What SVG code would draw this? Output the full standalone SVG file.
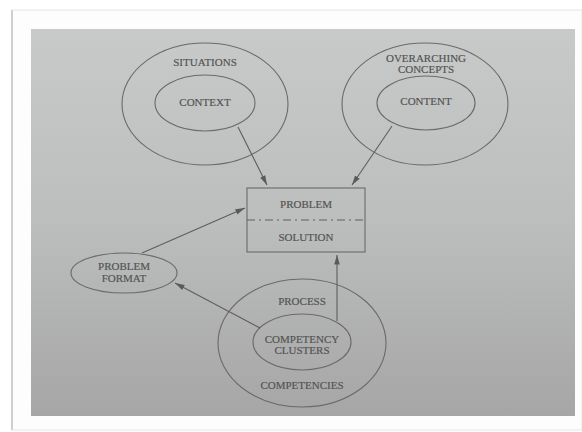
<svg xmlns="http://www.w3.org/2000/svg" width="582" height="432" viewBox="0 0 582 432">
<defs>
<linearGradient id="bg" x1="0" y1="0" x2="0" y2="1">
<stop offset="0" stop-color="#c8caca"/>
<stop offset="0.5" stop-color="#bcbdbd"/>
<stop offset="1" stop-color="#a6a6a6"/>
</linearGradient>
<marker id="ah" viewBox="0 0 12 10" refX="12" refY="5" markerWidth="10" markerHeight="8" markerUnits="userSpaceOnUse" orient="auto">
<path d="M0,1.5 L12,5 L0,8.5 Z" fill="#5a5a5a"/>
</marker>
<style>
.sh{fill:none;stroke:#6a6a6a;stroke-width:1.1}
.ln{fill:none;stroke:#5e5e5e;stroke-width:1.1;marker-end:url(#ah)}
text{font-family:"Liberation Serif","Times New Roman",serif;font-size:11px;fill:#525252;stroke:#5a5a5a;stroke-width:0.2;text-anchor:middle;dominant-baseline:central}
</style>
</defs>
<rect x="0" y="0" width="582" height="432" fill="#ffffff"/>
<rect x="12" y="10" width="570" height="420" fill="#fdfdfd" stroke="#e6e6e6" stroke-width="1"/>
<line x1="12" y1="10" x2="12" y2="430" stroke="#cfcfcf" stroke-width="2"/>
<rect x="31" y="29" width="544" height="387" fill="url(#bg)"/>
<g id="situations">
<ellipse class="sh" cx="205" cy="104" rx="83" ry="61"/>
<text x="205" y="62">SITUATIONS</text>
</g>
<g id="context">
<ellipse class="sh" cx="205" cy="103" rx="50" ry="28"/>
<text x="205" y="102">CONTEXT</text>
</g>
<g id="overarching">
<ellipse class="sh" cx="425" cy="104" rx="83" ry="61"/>
<text x="426" y="58">OVERARCHING</text>
<text x="426" y="69">CONCEPTS</text>
</g>
<g id="content">
<ellipse class="sh" cx="426" cy="103" rx="49" ry="27"/>
<text x="426" y="101">CONTENT</text>
</g>
<g id="problem-solution">
<rect class="sh" x="247" y="188" width="118" height="64"/>
<line x1="247" y1="220" x2="365" y2="220" stroke="#5e5e5e" stroke-width="1.1" stroke-dasharray="8,4,2,4"/>
<text x="306" y="204">PROBLEM</text>
<text x="306" y="237">SOLUTION</text>
</g>
<g id="problem-format">
<ellipse class="sh" cx="124" cy="273" rx="53" ry="20"/>
<text x="124" y="266">PROBLEM</text>
<text x="124" y="278">FORMAT</text>
</g>
<g id="competencies">
<ellipse class="sh" cx="302" cy="343" rx="84" ry="64"/>
<text x="302" y="301">PROCESS</text>
<text x="302" y="385">COMPETENCIES</text>
</g>
<g id="competency-clusters">
<ellipse class="sh" cx="302" cy="342" rx="49" ry="28"/>
<text x="302" y="339">COMPETENCY</text>
<text x="302" y="350">CLUSTERS</text>
</g>
<g id="connectors">
<line class="ln" x1="238" y1="127" x2="267" y2="185"/>
<line class="ln" x1="392" y1="126" x2="352" y2="185"/>
<line class="ln" x1="142" y1="253" x2="245" y2="208"/>
<line class="ln" x1="260" y1="328" x2="175" y2="283"/>
<line class="ln" x1="337" y1="321" x2="337" y2="255"/>
</g>
</svg>
